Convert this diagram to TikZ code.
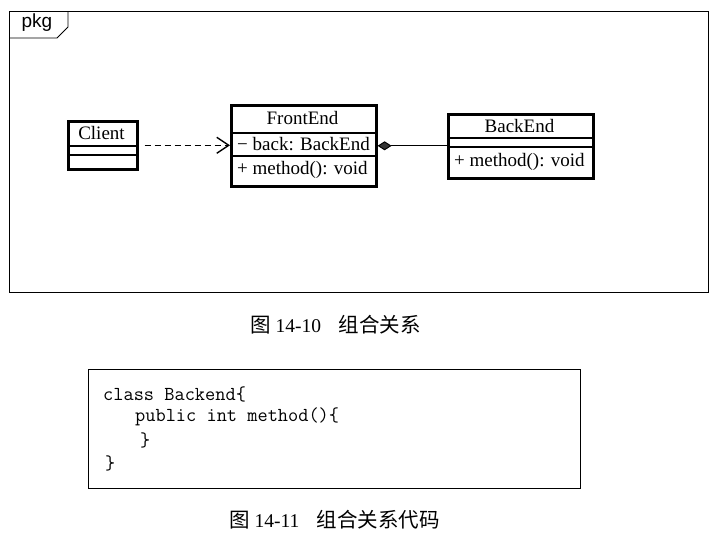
\documentclass[tikz,border=0pt]{standalone}
\usepackage{fontspec}
\setmainfont{Liberation Serif}
\newfontfamily\cjk{Noto Sans CJK SC}
\newfontfamily\pkgfont{Liberation Sans}
\usetikzlibrary{arrows.meta,shapes.geometric}
\begin{document}
\begin{tikzpicture}[x=1pt,y=-1pt,
  cls/.style={draw, line width=2.6pt, inner sep=0pt, anchor=north west},
  divider/.style={line width=1.3pt},
  umltext/.style={font=\fontsize{19}{21}\selectfont, inner sep=0pt},
  codetext/.style={font=\ttfamily\fontsize{19.8}{21}\selectfont, inner sep=0pt, anchor=west},
  captext/.style={font=\fontsize{19.5}{21}\selectfont, inner sep=0pt, anchor=west}]
\useasboundingbox (0,0) rectangle (717,541);
% package frame
\draw[line width=0.9pt] (9,11) rectangle (708,292);
\draw[line width=0.9pt] (9,38) -- (57,38) -- (68,27) -- (68,11);
\node[font=\pkgfont\fontsize{19}{21}\selectfont, inner sep=0pt] (pkg) at (37,23) {pkg};
% Client
\node[cls, minimum width=69pt, minimum height=48pt] (client) at (67,120) {};
\draw[divider] (67,146) -- (136,146);
\draw[divider] (67,155) -- (136,155);
\node[umltext] (clientname) at (101.5,133) {Client};
% FrontEnd
\node[cls, minimum width=145pt, minimum height=81pt] (front) at (230,104) {};
\draw[divider] (230,133) -- (375,133);
\draw[divider] (230,156) -- (375,156);
\node[umltext] (frontname) at (302.5,118) {FrontEnd};
\node[umltext, anchor=west] (frontattr) at (237,144.5) {− back: BackEnd};
\node[umltext, anchor=west] (frontop) at (237,169.5) {+ method(): void};
% BackEnd
\node[cls, minimum width=145pt, minimum height=64pt] (back) at (447,113) {};
\draw[divider] (447,138) -- (592,138);
\draw[divider] (447,147) -- (592,147);
\node[umltext] (backname) at (519.5,126) {BackEnd};
\node[umltext, anchor=west] (backop) at (454,162) {+ method(): void};
% connectors
\draw[line width=1pt, dash pattern=on 6pt off 4pt, shorten <=6pt,
  -{Straight Barb[length=12pt,width=16pt,line width=1.4pt]}]
  (client.east) -- (client.east -| front.west);
\draw[line width=1pt, {Diamond[fill=black!80,length=14pt,width=9pt]}-]
  (front.east) -- (front.east -| back.west);
% caption 1
\node[captext] (cap1) at (250,325) {{\cjk\fontsize{20.5}{21}\selectfont 图} 14-10\hspace{0.9em}{\cjk\fontsize{20.5}{21}\selectfont 组合关系}};
% code box
\node[draw, line width=1.3pt, inner sep=0pt, anchor=north west,
  minimum width=492pt, minimum height=119pt] (code) at (88,369) {};
\node[codetext] (l1) at (103,394) {class Backend\{};
\node[codetext] (l2) at (135,417) {public int method()\{};
\node[codetext] (l3) at (140,440) {\}};
\node[codetext] (l4) at (105,463) {\}};
% caption 2
\node[captext] (cap2) at (229,520) {{\cjk\fontsize{20.5}{21}\selectfont 图} 14-11\hspace{0.9em}{\cjk\fontsize{20.5}{21}\selectfont 组合关系代码}};
\end{tikzpicture}
\end{document}
